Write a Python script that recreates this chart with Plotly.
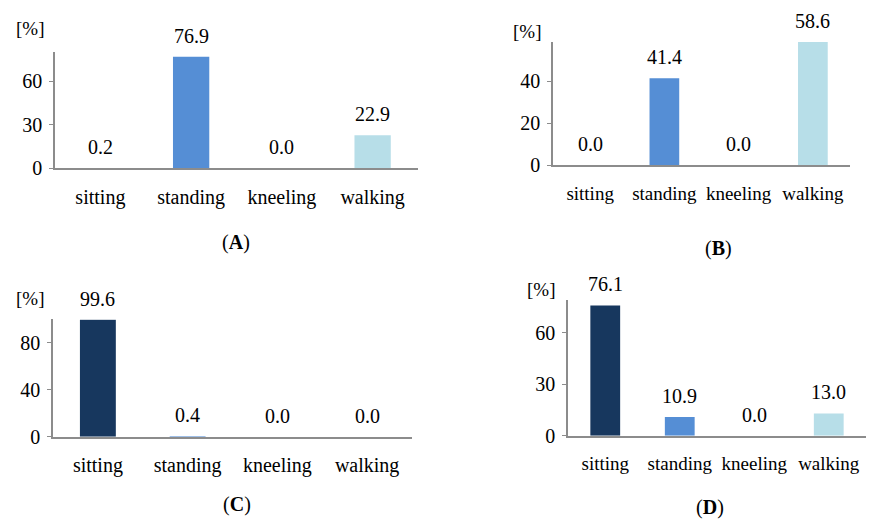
import plotly.graph_objects as go

W, H = 870, 526

categories = ["sitting", "standing", "kneeling", "walking"]
values_A = [0.2, 76.9, 0.0, 22.9]
values_B = [0.0, 41.4, 0.0, 58.6]
values_C = [99.6, 0.4, 0.0, 0.0]
values_D = [76.1, 10.9, 0.0, 13.0]
ticks_A = [0, 30, 60]
ticks_B = [0, 20, 40]
ticks_C = [0, 40, 80]
ticks_D = [0, 30, 60]
panel_letters = ["A", "B", "C", "D"]

bar_colors = ["#17375E", "#558ED5", "#8EB4E3", "#B7DEE8"]
FONT = "'Liberation Serif', 'DejaVu Serif', serif"
AXIS_COLOR = "#8C8C8C"
FS = 20

# pixel layout: (x_left, x_right, y_bottom, y_top), y measured from top
boxes = [
    (55, 418, 172, 53),
    (553, 850, 169, 43),
    (53, 412, 446, 326),
    (568, 866, 445, 306),
]
ranges = [[0, 80.2], [0, 58.6], [0, 100], [0, 79.5]]
xtick_sizes = [20, 19, 20, 19]
all_values = [values_A, values_B, values_C, values_D]
all_ticks = [ticks_A, ticks_B, ticks_C, ticks_D]
pct_offsets = [(-25, 23), (-26, 11), (-23, 21), (-27, 10)]
title_pos = [(236, 248), (718, 254), (237, 515), (710, 518)]

fig = go.Figure()
annotations = []
for i in range(4):
    sfx = "" if i == 0 else str(i + 1)
    xl, xr, yb, yt = boxes[i]
    fig.add_trace(go.Bar(
        x=categories, y=all_values[i], xaxis="x" + sfx, yaxis="y" + sfx,
        marker=dict(color=bar_colors, line=dict(width=0)), width=0.4,
        showlegend=False, hoverinfo="x+y",
    ))
    fig.layout["xaxis" + sfx] = dict(
        domain=[xl / W, xr / W], anchor="y" + sfx, type="category",
        showline=True, linecolor=AXIS_COLOR, linewidth=1.5, ticks="",
        showgrid=False, zeroline=False, ticklabelstandoff=10,
        tickfont=dict(family=FONT, size=xtick_sizes[i], color="black"),
        range=[-0.5, 3.5], fixedrange=True,
    )
    fig.layout["yaxis" + sfx] = dict(
        domain=[1 - yb / H, 1 - yt / H], anchor="x" + sfx,
        range=ranges[i], tickvals=all_ticks[i],
        showline=True, linecolor=AXIS_COLOR, linewidth=1.5,
        ticks="outside", ticklen=4, tickcolor=AXIS_COLOR, tickwidth=1,
        showgrid=False, zeroline=False, ticklabelstandoff=3,
        tickfont=dict(family=FONT, size=FS, color="black"), fixedrange=True,
    )
    for c, v in zip(categories, all_values[i]):
        annotations.append(dict(
            x=c, y=v, xref="x" + sfx, yref="y" + sfx, text=f"{v:.1f}",
            showarrow=False, yanchor="middle", yshift=21,
            font=dict(family=FONT, size=FS, color="black"),
        ))
    dx, dy = pct_offsets[i]
    annotations.append(dict(
        x=0, y=1, xref=f"x{sfx} domain", yref=f"y{sfx} domain", text="[%]",
        showarrow=False, xanchor="center", yanchor="middle", xshift=dx, yshift=dy,
        font=dict(family=FONT, size=19, color="black"),
    ))
    tx, ty = title_pos[i]
    annotations.append(dict(
        x=tx / W, y=1 - ty / H, xref="paper", yref="paper",
        text=f"(<b>{panel_letters[i]}</b>)", showarrow=False,
        xanchor="center", yanchor="middle",
        font=dict(family=FONT, size=FS, color="black"),
    ))

fig.update_layout(
    width=W, height=H, margin=dict(l=0, r=0, t=0, b=0),
    paper_bgcolor="white", plot_bgcolor="white",
    font=dict(family=FONT, color="black"),
    annotations=annotations, bargap=0.6,
)
fig.write_html(
    "out.html",
    config={"displayModeBar": False},
    post_script="document.body.style.margin='0';document.body.style.padding='0';document.body.style.overflow='hidden';",
)
